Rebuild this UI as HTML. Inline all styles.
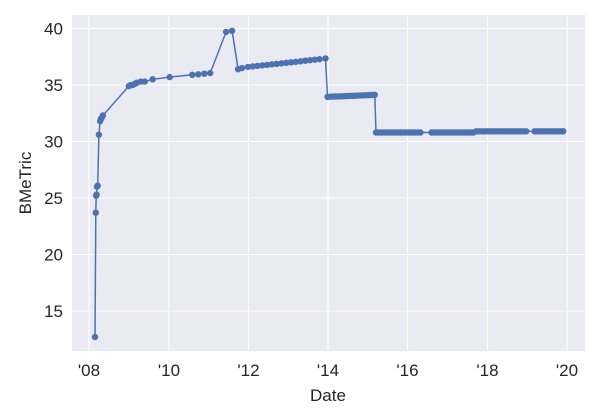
<!DOCTYPE html>
<html><head><meta charset="utf-8"><style>
body{margin:0;background:#fff;}
svg{display:block;font-family:"Liberation Sans",Arial,sans-serif;}
</style></head><body>
<svg id="s" width="600" height="420" xmlns="http://www.w3.org/2000/svg">
<rect x="72" y="15" width="513" height="336" fill="#eaeaf2"/>
<g stroke="#fff" stroke-width="1.1">
<line x1="72" x2="585" y1="28.5" y2="28.5"/><line x1="72" x2="585" y1="85" y2="85"/>
<line x1="72" x2="585" y1="141.5" y2="141.5"/><line x1="72" x2="585" y1="198" y2="198"/>
<line x1="72" x2="585" y1="254.5" y2="254.5"/><line x1="72" x2="585" y1="311" y2="311"/>
<line y1="15" y2="351" x1="89" x2="89"/><line y1="15" y2="351" x1="169" x2="169"/>
<line y1="15" y2="351" x1="248.5" x2="248.5"/><line y1="15" y2="351" x1="328" x2="328"/>
<line y1="15" y2="351" x1="407.5" x2="407.5"/><line y1="15" y2="351" x1="487.5" x2="487.5"/>
<line y1="15" y2="351" x1="567" x2="567"/>
</g>
<g fill="#262626" font-size="17" text-anchor="end">
<text x="63" y="34.5">40</text><text x="63" y="91">35</text><text x="63" y="147.5">30</text>
<text x="63" y="204">25</text><text x="63" y="260.5">20</text><text x="63" y="317">15</text>
</g>
<g fill="#262626" font-size="17" text-anchor="middle">
<text x="89" y="376">'08</text><text x="169" y="376">'10</text><text x="248.5" y="376">'12</text>
<text x="328" y="376">'14</text><text x="407.5" y="376">'16</text><text x="487.5" y="376">'18</text>
<text x="567" y="376">'20</text>
<text x="328" y="401">Date</text>
<text transform="translate(31,183) rotate(-90)">BMeTric</text>
</g>
<g id="d"></g>
</svg>
<script>
var P=[[2008.15,12.7],[2008.17,23.7],[2008.18,25.2],[2008.19,25.3],[2008.2,26.0],[2008.22,26.1],[2008.25,30.6],[2008.28,31.8],[2008.3,32.0],[2008.32,32.1],[2008.35,32.3],[2009.0,34.9],[2009.05,35.0],[2009.1,35.0],[2009.15,35.1],[2009.2,35.2],[2009.3,35.3],[2009.4,35.3],[2009.6,35.5],[2010.03,35.7],[2010.6,35.9],[2010.75,35.95],[2010.9,36.0],[2011.05,36.05],[2011.45,39.7],[2011.6,39.8],[2011.75,36.4],[2011.85,36.5]];
for(var t=2012.0;t<=2013.9;t+=0.12)P.push([t,36.6+(t-2012)*0.38]);
P.push([2013.95,37.35]);
for(var t=2014.0;t<=2015.2;t+=0.07)P.push([t,33.95+(t-2014)*0.15]);
for(var t=2015.22;t<=2019.93;t+=0.07){if((t>2016.4&&t<2016.6)||(t>2019.0&&t<2019.15))continue;P.push([t,t<2017.7?30.8:30.9]);}
P.push([2019.93,30.9]);
function X(y){return 89+(y-2008)*39.75}function Y(v){return 28.5+(40-v)*11.3}
var s='<polyline fill="none" stroke="#4c72b0" stroke-width="1.5" points="'+P.map(function(p){return X(p[0]).toFixed(1)+','+Y(p[1]).toFixed(1)}).join(' ')+'"/>';
P.forEach(function(p){s+='<circle cx="'+X(p[0]).toFixed(1)+'" cy="'+Y(p[1]).toFixed(1)+'" r="3.2" fill="#4c72b0"/>'});
document.getElementById('d').innerHTML=s;
</script>
</body></html>
